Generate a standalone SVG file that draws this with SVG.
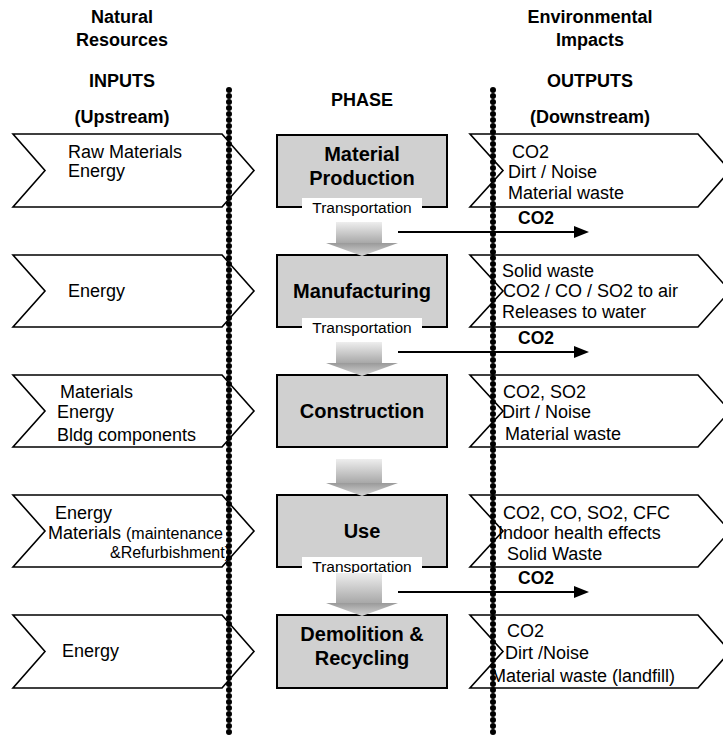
<svg xmlns="http://www.w3.org/2000/svg" width="723" height="735" viewBox="0 0 723 735">
<defs>
<linearGradient id="gShaft" x1="0" y1="0" x2="0" y2="1">
<stop offset="0" stop-color="#eeeeee"/><stop offset="1" stop-color="#a8a8a8"/>
</linearGradient>
<linearGradient id="gHead" x1="0" y1="0" x2="0" y2="1">
<stop offset="0" stop-color="#9a9a9a"/><stop offset="1" stop-color="#d4d4d4"/>
</linearGradient>
<marker id="ah" markerWidth="15" markerHeight="12" refX="1" refY="6" orient="auto" markerUnits="userSpaceOnUse" viewBox="0 0 15 12">
<path d="M0,0 L15,6 L0,12 z" fill="#000"/>
</marker>
</defs>
<style>
text{font-family:"Liberation Sans",Arial,sans-serif;fill:#000}
.hd{font-size:18px;font-weight:bold;text-anchor:middle}
.bd{font-size:18px}
.sm{font-size:16px}
.bx{font-size:20px;font-weight:bold;text-anchor:middle}
.tr{font-size:15.5px;text-anchor:middle}
.co{font-size:17.5px;font-weight:bold}
.chev{fill:#fff;stroke:#000;stroke-width:1.6}
.box{fill:#d0d0d0;stroke:#000;stroke-width:2}
.lbl{fill:#fff}
.dots{stroke:#000;stroke-width:6;stroke-linecap:round;stroke-dasharray:0 6;fill:none}
.co2l{stroke:#000;stroke-width:2;fill:none}
</style>
<rect width="723" height="735" fill="#fff"/>

<g id="headers">
<text class="hd" x="122" y="23">Natural</text>
<text class="hd" x="122" y="46">Resources</text>
<text class="hd" x="122" y="87">INPUTS</text>
<text class="hd" x="122" y="123">(Upstream)</text>
<text class="hd" x="362" y="106">PHASE</text>
<text class="hd" x="590" y="23">Environmental</text>
<text class="hd" x="590" y="46">Impacts</text>
<text class="hd" x="590" y="87">OUTPUTS</text>
<text class="hd" x="590" y="123">(Downstream)</text>
</g>

<g id="in1"><polygon class="chev" points="13,134 222,134 254,170.5 222,207 13,207 45,170.5"/>
<text class="bd" x="68" y="158">Raw Materials</text><text class="bd" x="68" y="177">Energy</text></g>
<g id="in2"><polygon class="chev" points="13,255 222,255 254,291 222,327 13,327 45,291"/>
<text class="bd" x="68" y="297">Energy</text></g>
<g id="in3"><polygon class="chev" points="13,375 222,375 254,411 222,447 13,447 45,411"/>
<text class="bd" x="60" y="398">Materials</text><text class="bd" x="57" y="418">Energy</text><text class="bd" x="57" y="441">Bldg components</text></g>
<g id="in4"><polygon class="chev" points="13,495 222,495 254,531 222,567 13,567 45,531"/>
<text class="bd" x="55" y="519">Energy</text><text class="bd" x="48" y="539">Materials <tspan class="sm">(maintenance</tspan></text><text class="sm" x="230" y="558" text-anchor="end">&amp;Refurbishment)</text></g>
<g id="in5"><polygon class="chev" points="13,615 222,615 254,651.5 222,688 13,688 45,651.5"/>
<text class="bd" x="62" y="657">Energy</text></g>

<g id="out1"><polygon class="chev" points="470,134 698,134 730,170.5 698,207 470,207 503,170.5"/>
<text class="bd" x="512" y="158">CO2</text><text class="bd" x="508" y="178">Dirt / Noise</text><text class="bd" x="508" y="199">Material waste</text></g>
<g id="out2"><polygon class="chev" points="470,255 698,255 730,291 698,327 470,327 503,291"/>
<text class="bd" x="502" y="277">Solid waste</text><text class="bd" x="503" y="297">CO2 / CO / SO2 to air</text><text class="bd" x="502" y="318">Releases to water</text></g>
<g id="out3"><polygon class="chev" points="470,375 698,375 730,411 698,447 470,447 503,411"/>
<text class="bd" x="503" y="398">CO2, SO2</text><text class="bd" x="502" y="418">Dirt / Noise</text><text class="bd" x="505" y="440">Material waste</text></g>
<g id="out4"><polygon class="chev" points="470,495 698,495 730,531 698,567 470,567 503,531"/>
<text class="bd" x="503" y="519">CO2, CO, SO2, CFC</text><text class="bd" x="498" y="539">Indoor health effects</text><text class="bd" x="507" y="560">Solid Waste</text></g>
<g id="out5"><polygon class="chev" points="470,615 698,615 730,651.5 698,688 470,688 503,651.5"/>
<text class="bd" x="507" y="637">CO2</text><text class="bd" x="505" y="659">Dirt /Noise</text><text class="bd" x="491" y="682">Material waste (landfill)</text></g>

<g id="phase1"><rect class="box" x="277" y="135" width="170" height="72"/>
<text class="bx" x="362" y="161">Material</text><text class="bx" x="362" y="185">Production</text></g>
<g id="phase2"><rect class="box" x="277" y="255" width="170" height="72"/>
<text class="bx" x="362" y="298">Manufacturing</text></g>
<g id="phase3"><rect class="box" x="277" y="375" width="170" height="72"/>
<text class="bx" x="362" y="418">Construction</text></g>
<g id="phase4"><rect class="box" x="277" y="495" width="170" height="72"/>
<text class="bx" x="362" y="538">Use</text></g>
<g id="phase5"><rect class="box" x="277" y="615" width="170" height="73"/>
<text class="bx" x="362" y="641">Demolition &amp;</text><text class="bx" x="362" y="665">Recycling</text></g>

<g id="transport">
<rect class="lbl" x="302" y="198" width="120" height="17"/><text class="tr" x="362" y="213">Transportation</text>
<rect class="lbl" x="302" y="318" width="120" height="17"/><text class="tr" x="362" y="333">Transportation</text>
<rect class="lbl" x="302" y="557" width="120" height="17"/><text class="tr" x="362" y="572">Transportation</text>
</g>

<g id="connectors">
<rect x="336" y="222" width="46" height="21" fill="url(#gShaft)"/><polygon points="326,243 398,243 362,256" fill="url(#gHead)"/>
<rect x="336" y="342" width="46" height="21" fill="url(#gShaft)"/><polygon points="326,363 398,363 362,376" fill="url(#gHead)"/>
<rect x="336" y="459" width="46" height="24" fill="url(#gShaft)"/><polygon points="326,483 398,483 362,496" fill="url(#gHead)"/>
<rect x="336" y="573" width="46" height="30" fill="url(#gShaft)"/><polygon points="326,603 398,603 362,616" fill="url(#gHead)"/>

<line class="co2l" x1="398" y1="232" x2="575" y2="232" marker-end="url(#ah)"/>
<text class="co" x="518" y="224">CO2</text>
<line class="co2l" x1="398" y1="352" x2="575" y2="352" marker-end="url(#ah)"/>
<text class="co" x="518" y="344">CO2</text>
<line class="co2l" x1="398" y1="592" x2="575" y2="592" marker-end="url(#ah)"/>
<text class="co" x="518" y="584">CO2</text>
</g>

<g id="dividers">
<line class="dots" x1="229" y1="90" x2="229" y2="735"/>
<line class="dots" x1="493" y1="90" x2="493" y2="735"/>
</g>
</svg>
